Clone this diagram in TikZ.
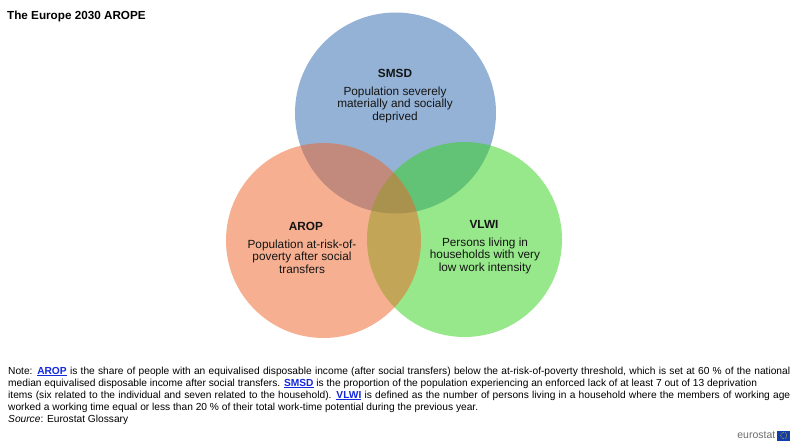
\documentclass[tikz,border=0pt]{standalone}
\usepackage{fontspec}
\usetikzlibrary{calc}
\setmainfont{Liberation Sans}
\definecolor{blueC}{RGB}{43,103,175}
\definecolor{greenC}{RGB}{49,211,23}
\definecolor{orangeC}{RGB}{239,99,37}
\definecolor{linkC}{RGB}{20,40,220}
\definecolor{txtC}{RGB}{20,20,20}
\definecolor{logoG}{RGB}{110,110,110}
\definecolor{flagB}{RGB}{20,60,170}
\definecolor{flagY}{RGB}{250,210,0}
\newcommand{\lnk}[1]{\textcolor{linkC}{\underline{\textbf{#1}}}}
\begin{document}
\begin{tikzpicture}[x=1pt,y=-1pt,
  venn/.style={circle, minimum size=#1, inner sep=0pt, fill opacity=0.5},
  head/.style={font=\fontsize{11.8}{13}\selectfont\bfseries, text=txtC},
  body/.style={font=\fontsize{11.8}{12.7}\selectfont, text=txtC, align=center}]
\useasboundingbox (0,0) rectangle (800,444);
\fill[white] (0,0) rectangle (800,444);
% circles: blue, green, orange (drawn in this order)
\node[venn=201pt, fill=blueC] (smsd) at (395.5,113) {};
\node[venn=195pt, fill=greenC] (vlwi) at (464.5,239.5) {};
\node[venn=195pt, fill=orangeC] (arop) at (323.5,240.5) {};
% title
\node[anchor=west, font=\fontsize{11.7}{13}\selectfont\bfseries, inner sep=0pt] (title) at (7,16) {The Europe 2030 AROPE};
% circle texts
\node[head] (smsdH) at (395,73) {SMSD};
\node[body, anchor=north] (smsdB) at (395,83) {Population severely\\materially and socially\\deprived};
\node[head] (aropH) at (306,226) {AROP};
\node[body, anchor=north] (aropB) at (302,236) {Population at-risk-of-\\poverty after social\\transfers};
\node[head] (vlwiH) at (484,224) {VLWI};
\node[body, anchor=north] (vlwiB) at (485,234) {Persons living in\\households with very\\low work intensity};
% note
\node[anchor=north west, inner sep=0pt, align=left, font=\fontsize{10.2}{12.1}\selectfont] (note) at (8,366.5) {%
\makebox[782pt][s]{Note: \lnk{AROP} is the share of people with an equivalised disposable income (after social transfers) below the at-risk-of-poverty threshold, which is set at 60 \% of the national}\\
median equivalised disposable income after social transfers. \lnk{SMSD} is the proportion of the population experiencing an enforced lack of at least 7 out of 13 deprivation\\
\makebox[782pt][s]{items (six related to the individual and seven related to the household). \lnk{VLWI} is defined as the number of persons living in a household where the members of working age}\\
worked a working time equal or less than 20 \% of their total work-time potential during the previous year.\\
\textit{Source}: Eurostat Glossary};
% logo
\node[anchor=east, inner sep=0pt, text=logoG, font=\fontsize{10.5}{12}\selectfont] (logo) at (775.5,435.5) {eurostat};
\node[anchor=west, inner sep=0pt, minimum width=13pt, minimum height=10pt, fill=flagB] (flag) at (777,435.5) {};
\foreach \a in {0,30,...,330}
  \fill[flagY] ($(flag.center)+(\a:3pt)$) circle (0.45pt);
\end{tikzpicture}
\end{document}
